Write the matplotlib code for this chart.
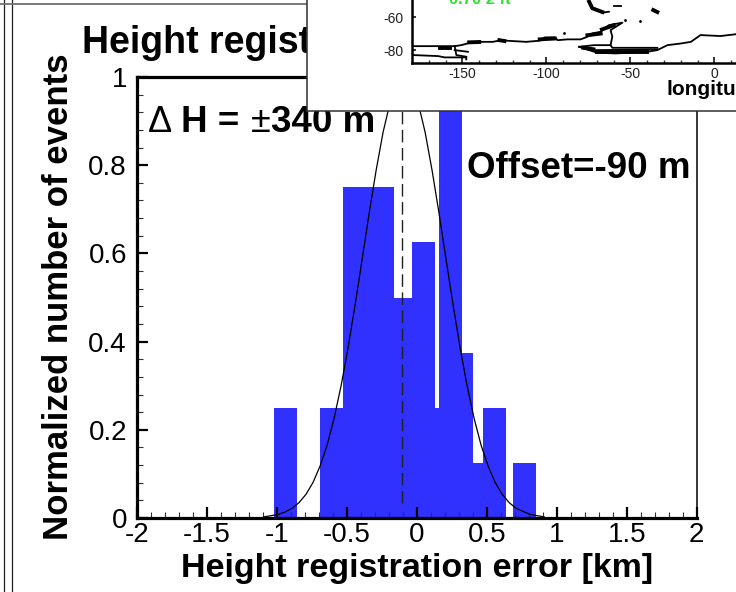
import matplotlib
matplotlib.use('Agg')
import matplotlib.pyplot as plt
from matplotlib.lines import Line2D

plt.rcParams['font.family'] = ['Liberation Sans', 'DejaVu Sans']
plt.rcParams['axes.unicode_minus'] = False

# histogram, km (left edge, right edge, normalized count)
bar_left = [-1.019, -0.69, -0.526, -0.162, -0.034, 0.131, 0.159, 0.324, 0.402, 0.474, 0.688]
bar_right = [-0.855, -0.526, -0.162, -0.034, 0.131, 0.159, 0.324, 0.402, 0.474, 0.639, 0.852]
bar_height = [0.25, 0.25, 0.75, 0.5, 0.625, 0.25, 1.0, 0.375, 0.125, 0.25, 0.125]

# fitted curve
curve_x = [-1.09, -0.99, -0.94, -0.89, -0.84, -0.79, -0.74, -0.69, -0.64, -0.59, -0.54, -0.49, -0.44, -0.39,
           -0.34, -0.29, -0.24, -0.19, -0.14, -0.09, -0.04, 0.01, 0.06, 0.11, 0.16, 0.21, 0.26, 0.31, 0.36,
           0.41, 0.46, 0.51, 0.56, 0.61, 0.66, 0.71, 0.81, 0.91]
curve_y = [0.0026, 0.008, 0.0137, 0.022, 0.035, 0.054, 0.081, 0.118, 0.165, 0.226, 0.300, 0.386, 0.483, 0.586,
           0.690, 0.788, 0.875, 0.942, 0.985, 1.0, 0.985, 0.942, 0.875, 0.788, 0.690, 0.586, 0.483, 0.386, 0.300,
           0.226, 0.165, 0.118, 0.081, 0.054, 0.035, 0.022, 0.008, 0.0026]
offset_km = -0.107

x_ticks = [-2, -1.5, -1, -0.5, 0, 0.5, 1, 1.5, 2]
x_labels = ['-2', '-1.5', '-1', '-0.5', '0', '0.5', '1', '1.5', '2']
y_ticks = [0, 0.2, 0.4, 0.6, 0.8, 1]
y_labels = ['0', '0.2', '0.4', '0.6', '0.8', '1']

# map inset, lon/lat
coast_lines = [
    ([-179, -154.6, -150.7, -145.7, -140.8, -131.9, -126.9, -124, -112, -104, -101, -95.2, -93.2, -87.5, -79.6,
      -75.6, -72.7, -67.7, -62.8, -54.8, -61.8, -60.8, -61.8],
     [-77.6, -77.6, -77, -75.6, -75, -75, -74, -74.3, -75, -74.3, -72.3, -72.3, -74, -73.5, -73.5,
      -71.9, -69.9, -68.9, -64.9, -63.4, -67.9, -71.9, -77]),
    ([-80.6, -74.6, -69.7, -58.8, -40, -34, -28, -20, -14, -8.3, 3.6, 13.5],
     [-78, -80, -81.6, -82, -81, -80, -77, -76, -75, -70.9, -71.5, -70.3]),
    ([-80.6, -71.7, -61.8, -60.8, -34], [-78, -77, -77, -78.6, -78.6]),
    ([-70.7, -34], [-80, -79.6]),
    ([-179, -164.5, -160.6, -147.7, -147.7], [-83, -83.6, -84.4, -84.4, -85.6]),
    ([-154.6, -153.6, -147.7], [-77.6, -83, -84]),
    ([-154.6, -146.7], [-80, -81]),
    ([-74.6, -72.7, -66.7, -62.8], [-50.7, -54.7, -57.4, -56.8]),
    ([-59.8, -55.8], [-53.3, -53.3]),
]
thick_lines = [
    ([-163.5, -157.6], [-79, -79]),
    ([-128, -125], [-74, -74.5]),
    ([-146, -140], [-75.3, -75.1]),
    ([-104, -95], [-73.5, -73]),
    ([-75.6, -67.7], [-71, -70]),
    ([-67, -60], [-67.5, -65]),
    ([-78, -72], [-78.6, -79.5]),
    ([-70, -40], [-81.4, -81.4]),
    ([-74.6, -72.7, -66.7], [-50.7, -54.7, -57]),
    ([-36.4, -34], [-55.8, -57]),
]
dot_lon = [-44.3, -89.3, -53.5]
dot_lat = [-62.2, -69.9, -62]
map_x_ticks = [-150, -100, -50, 0]
map_y_ticks = [-60, -80]

W, H = 736, 592
fig = plt.figure(figsize=(W / 100, H / 100), dpi=100)


def axes_px(x0, y0, x1, y1):
    return [x0 / W, 1 - y1 / H, (x1 - x0) / W, (y1 - y0) / H]


def text_px(x, y, s, **kw):
    fig.text(x / W, 1 - y / H, s, **kw)


# old page frame lines
for xp in [3.5, 11.5]:
    fig.add_artist(Line2D([xp / W, xp / W], [0, 1], color='#202020', lw=0.9))
fig.add_artist(Line2D([0, 1], [1 - 4 / H, 1 - 4 / H], color='#707070', lw=1.3))

ax = fig.add_axes(axes_px(136.7, 77, 696.7, 518))
for l, r, h in zip(bar_left, bar_right, bar_height):
    ax.bar(l, h, width=r - l, align='edge', color='#3030ff', lw=0, zorder=1)
ax.plot(curve_x, curve_y, color='k', lw=0.9, zorder=2)
ax.plot([offset_km, offset_km], [0.035, 1], color='#202020', lw=1, dashes=(9, 4), zorder=2)
ax.set_xlim(-2, 2)
ax.set_ylim(0, 1)
ax.set_xticks(x_ticks)
ax.set_xticklabels(x_labels)
ax.set_yticks(y_ticks)
ax.set_yticklabels(y_labels)
ax.set_xticks([v / 10 for v in range(-20, 21) if v % 5], minor=True)
ax.set_yticks([v / 100 for v in range(0, 101, 4) if v % 20], minor=True)
ax.tick_params(which='major', direction='in', length=8, width=1.6, labelsize=20)
ax.tick_params(which='minor', direction='in', length=4.5, width=0.8, color='#303030')
ax.tick_params(axis='x', which='major', pad=3)
ax.tick_params(axis='y', which='major', pad=7)
for s in ['left', 'bottom', 'top']:
    ax.spines[s].set_linewidth(2.3)
ax.spines['right'].set_linewidth(1.1)

bold = dict(fontweight='bold', color='k')
text_px(82, 43, 'Height registration', fontsize=27, va='center', ha='left', **bold)
text_px(417, 568, 'Height registration error [km]', fontsize=24.5, va='center', ha='center', **bold)
text_px(59, 297, 'Normalized number of events', fontsize=25, rotation=90, va='center', ha='center', **bold)
text_px(467, 168, 'Offset=-90 m', fontsize=26.5, va='center', ha='left', **bold)
text_px(148, 122, '\u0394', fontsize=26, va='center', ha='left', color='k')
text_px(181, 122, 'H =', fontsize=26.5, va='center', ha='left', **bold)
text_px(251, 122, '\u00b1', fontsize=26, va='center', ha='left', color='k')
text_px(271, 122, '340 m', fontsize=26.5, va='center', ha='left', **bold)

# pasted map panel on top of the chart
panel = fig.add_axes(axes_px(306.5, -4, 742, 110.5), zorder=10)
panel.set_xticks([])
panel.set_yticks([])
panel.set_facecolor('white')
for s in panel.spines.values():
    s.set_linewidth(1.1)
    s.set_color('#303030')

m = fig.add_axes(axes_px(412, -4, 741, 62.7), zorder=11)
m.patch.set_alpha(0)
m.set_xlim(-180, 15.8)
m.set_ylim(-87.6, -47.3)
for lon, lat in coast_lines:
    m.plot(lon, lat, color='k', lw=1.3, clip_on=True)
for lon, lat in thick_lines:
    m.plot(lon, lat, color='k', lw=2.8, clip_on=True)
m.scatter(dot_lon, dot_lat, s=4, color='k', lw=0)
m.set_xticks(map_x_ticks)
m.set_yticks(map_y_ticks)
m.set_xticks([v for v in range(-170, 16, 10) if v % 50], minor=True)
m.tick_params(which='major', direction='in', length=4, width=1.1, labelsize=10, pad=3, labelcolor='#202020')
m.tick_params(which='minor', direction='in', length=2.2, width=1, color='#303030')
m.tick_params(axis='y', which='major', length=3, pad=6)
for s in ['top', 'right']:
    m.spines[s].set_visible(False)
for s in ['left', 'bottom']:
    m.spines[s].set_linewidth(1.8)
m.text(-158, -49.4, '0.70 2 ft', color='#30e030', fontsize=12, fontweight='bold', ha='left', va='center')
fig.text(667 / W, 1 - 90 / H, 'longitude', fontsize=15, fontweight='bold', va='center', ha='left', color='k', zorder=12)

fig.savefig('out.png', dpi=100)
